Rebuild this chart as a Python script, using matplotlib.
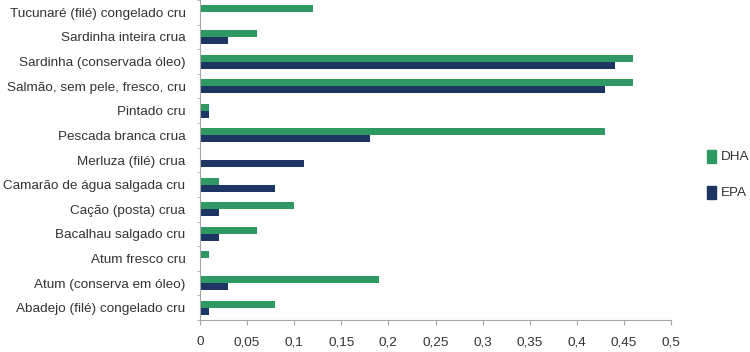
import numpy as np
import matplotlib.pyplot as plt
from matplotlib.ticker import FixedLocator, FuncFormatter
from matplotlib.patches import Rectangle

plt.rcParams['font.family'] = ['Liberation Sans', 'DejaVu Sans']

# categories, top to bottom as in the picture
foods = [
    "Tucunaré (filé) congelado cru",
    "Sardinha inteira crua",
    "Sardinha (conservada óleo)",
    "Salmão, sem pele, fresco, cru",
    "Pintado cru",
    "Pescada branca crua",
    "Merluza (filé) crua",
    "Camarão de água salgada cru",
    "Cação (posta) crua",
    "Bacalhau salgado cru",
    "Atum fresco cru",
    "Atum (conserva em óleo)",
    "Abadejo (filé) congelado cru",
]
dha = [0.12, 0.06, 0.46, 0.46, 0.01, 0.43, 0.0, 0.02, 0.10, 0.06, 0.01, 0.19, 0.08]
epa = [0.0, 0.03, 0.44, 0.43, 0.01, 0.18, 0.11, 0.08, 0.02, 0.02, 0.0, 0.03, 0.01]
xticks = [0, 0.05, 0.1, 0.15, 0.2, 0.25, 0.3, 0.35, 0.4, 0.45, 0.5]

green = '#2e9963'
navy = '#1c3563'
grey = '#a6a6a6'
txt = '#333333'
fs = 9.7

fig = plt.figure(figsize=(7.5, 3.52), dpi=100)
ax = fig.add_axes([0.2667, 0.0909, 0.628, 0.909])

n = len(foods)
y = np.arange(n)[::-1]
h = 0.285
ax.barh(y + h / 2, dha, height=h, color=green, label='DHA')
ax.barh(y - h / 2, epa, height=h, color=navy, label='EPA')

ax.set_ylim(-0.5, n - 0.5)
ax.set_xlim(0, 0.5)
ax.set_yticks(y)
ax.set_yticklabels(foods, fontsize=fs, color=txt)
ax.yaxis.set_minor_locator(FixedLocator(np.arange(-0.5, n, 1.0)))
ax.tick_params(axis='y', which='major', length=0, pad=10.5)
ax.tick_params(axis='y', which='minor', length=2.5, color=grey, direction='out')

ax.set_xticks(xticks)
ax.xaxis.set_major_formatter(FuncFormatter(lambda v, p: ('%g' % v).replace('.', ',')))
ax.tick_params(axis='x', length=3.6, color=grey, pad=8, labelsize=fs, labelcolor=txt)

for s in ['top', 'right']:
    ax.spines[s].set_visible(False)
for s in ['left', 'bottom']:
    ax.spines[s].set_color(grey)

# legend drawn as squares + text at figure coords
for i, (lab, col) in enumerate([('DHA', green), ('EPA', navy)]):
    yy = 1 - (156.5 + i * 36) / 352
    fig.patches.append(Rectangle((707 / 750, yy - 6.5 / 352), 9 / 750, 13 / 352,
                                 transform=fig.transFigure, color=col, figure=fig))
    fig.text(721 / 750, yy, lab, fontsize=fs, color=txt, va='center', ha='left')

fig.savefig('out.png', dpi=100)
